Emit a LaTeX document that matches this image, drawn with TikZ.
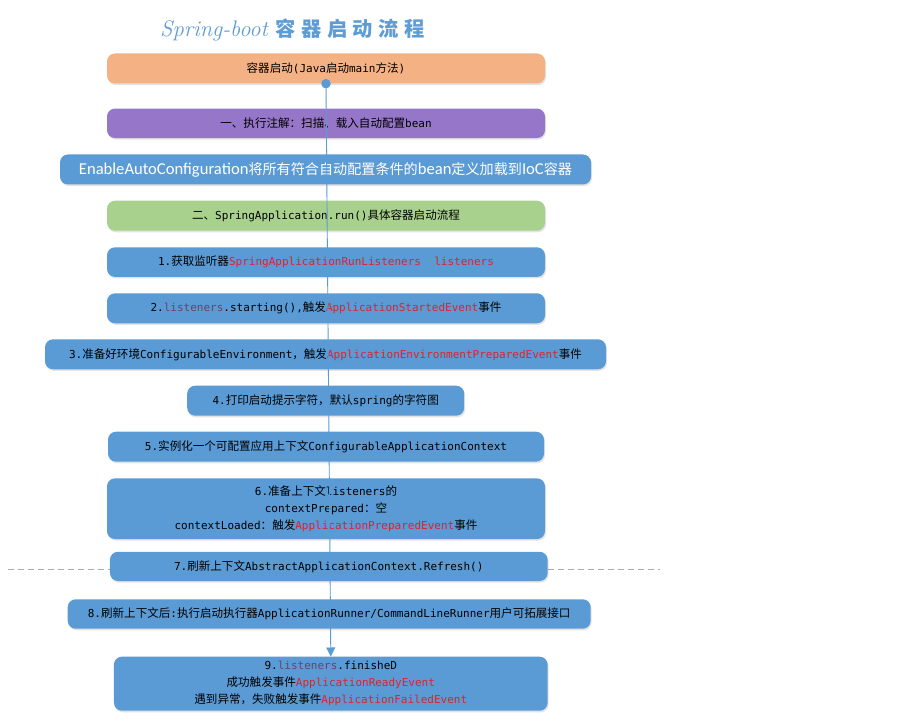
\documentclass[tikz,border=0pt]{standalone}
\usepackage{fontspec}
\usetikzlibrary{shadows,arrows.meta}
\setmonofont{DejaVu Sans Mono}
\newfontfamily\carlito{Carlito}
\newfontfamily\cjkmain{Noto Sans CJK SC}[Scale=1.05]
\newfontfamily\cjkbig{Noto Sans CJK SC}[Scale=0.85]
\newfontfamily\cjktitle{Noto Sans CJK SC}[Scale=0.9,LetterSpace=27]
\newcommand\curlatin{\ttfamily}
\newcommand\cjkfont{\cjkmain}
\newcommand\titlelat{\rmfamily\itshape}
\newcommand\titlecjk{\cjktitle\bfseries}
\XeTeXinterchartokenstate=1
\newXeTeXintercharclass\CJKcls
\newcount\cjkcnt
\def\setcjkrange#1#2{\cjkcnt=#1\relax
  \loop\XeTeXcharclass\cjkcnt=\CJKcls\relax
  \ifnum\cjkcnt<#2\relax\advance\cjkcnt by 1\repeat}
\setcjkrange{"3000}{"303F}
\setcjkrange{"4E00}{"9FFF}
\setcjkrange{"FF00}{"FFEF}
\XeTeXinterchartoks 0 \CJKcls = {\cjkfont}
\XeTeXinterchartoks 4095 \CJKcls = {\cjkfont}
\XeTeXinterchartoks \CJKcls 0 = {\curlatin}
\XeTeXinterchartoks 4095 0 = {\curlatin}
\definecolor{cOrange}{HTML}{F4B183}
\definecolor{cPurple}{HTML}{9676C8}
\definecolor{cBlue}{HTML}{5B9BD5}
\definecolor{cGreen}{HTML}{A9D18E}
\definecolor{cLine}{HTML}{5B9BD5}
\definecolor{cRed}{HTML}{E0202C}
\definecolor{cVar}{HTML}{6B4366}
\definecolor{cTitle}{HTML}{5E9CD6}
\definecolor{cDash}{HTML}{ABABAB}
\newcommand\rd[1]{\textcolor{cRed}{#1}}
\newcommand\lv[1]{\textcolor{cVar}{#1}}
\begin{document}
\begin{tikzpicture}[x=1pt,y=-1pt,
  box/.style={rounded corners=8pt, minimum width=438pt, minimum height=30pt,
    inner sep=0pt, align=center, text=black, fill=cBlue,
    font=\fontsize{11}{17}\selectfont,
    drop shadow={shadow xshift=1pt, shadow yshift=-1.6pt, opacity=0.18, fill=black!60}},
  conn/.style={draw=cLine, line width=0.9pt, -{Triangle[width=9pt,length=9pt]}},
  dotst/.style={circle, fill=cLine, minimum size=9.5pt, inner sep=0pt},
  dashline/.style={draw=cDash, line width=0.7pt, dash pattern=on 6pt off 4pt}]
\fill[white] (0,0) rectangle (922,727);
\useasboundingbox (0,0) rectangle (922,727);

\node[anchor=base west, inner sep=0pt, text=cTitle,
  font=\fontsize{22.5}{25}\selectfont\let\curlatin\titlelat\let\cjkfont\titlecjk]
  (title) at (160,36.5) {Spring-boot 容器启动流程};

\node[box, fill=cOrange] (n0) at (326,68.5) {容器启动(Java启动main方法)};
\node[box, fill=cPurple, minimum height=29.5pt] (n1) at (326,123.3) {一、执行注解：扫描、载入自动配置bean};
\node[box, minimum width=531pt, text=white,
  font=\fontsize{16.6}{19}\selectfont\let\curlatin\carlito\let\cjkfont\cjkbig]
  (n2) at (325.5,169.5) {EnableAutoConfiguration将所有符合自动配置条件的bean定义加载到IoC容器};
\node[box, fill=cGreen] (n3) at (326,215.7) {二、SpringApplication.run()具体容器启动流程};
\node[box, minimum height=29.6pt] (s1) at (326,262.1) {1.获取监听器\rd{SpringApplicationRunListeners\ \ listeners}};
\node[box] (s2) at (326,308.3) {2.\lv{listeners}.starting(),触发\rd{ApplicationStartedEvent}事件};
\node[box, minimum width=561pt] (s3) at (325.5,354.3) {3.准备好环境ConfigurableEnvironment，触发\rd{ApplicationEnvironmentPreparedEvent}事件};
\node[box, minimum width=277pt] (s4) at (325.7,400.7) {4.打印启动提示字符，默认spring的字符图};
\node[box, minimum width=436pt] (s5) at (326,446.7) {5.实例化一个可配置应用上下文ConfigurableApplicationContext};
\node[box, minimum height=60.7pt] (s6) at (326,508.7) {6.准备上下文listeners的\\contextPrepared：空\\contextLoaded：触发\rd{ApplicationPreparedEvent}事件};

\coordinate (dl) at (8,569.5);
\coordinate (dr) at (660,569.5);
\draw[dashline] (dl) -- (dr);

\node[box, minimum width=437.7pt, minimum height=29.2pt] (s7) at (328.8,566.4) {7.刷新上下文AbstractApplicationContext.Refresh()};
\node[box, minimum width=523pt, minimum height=29.4pt] (s8) at (329.2,614) {8.刷新上下文后:执行启动执行器ApplicationRunner/CommandLineRunner用户可拓展接口};
\node[box, minimum width=433.7pt, minimum height=54pt] (s9) at (330.8,683.7) {9.\lv{listeners}.finisheD\\成功触发事件\rd{ApplicationReadyEvent}\\遇到异常，失败触发事件\rd{ApplicationFailedEvent}};

\node[dotst] (dot) at (n0.south) {};
\draw[conn] (dot.center) -- (s9.north);
\end{tikzpicture}
\end{document}
